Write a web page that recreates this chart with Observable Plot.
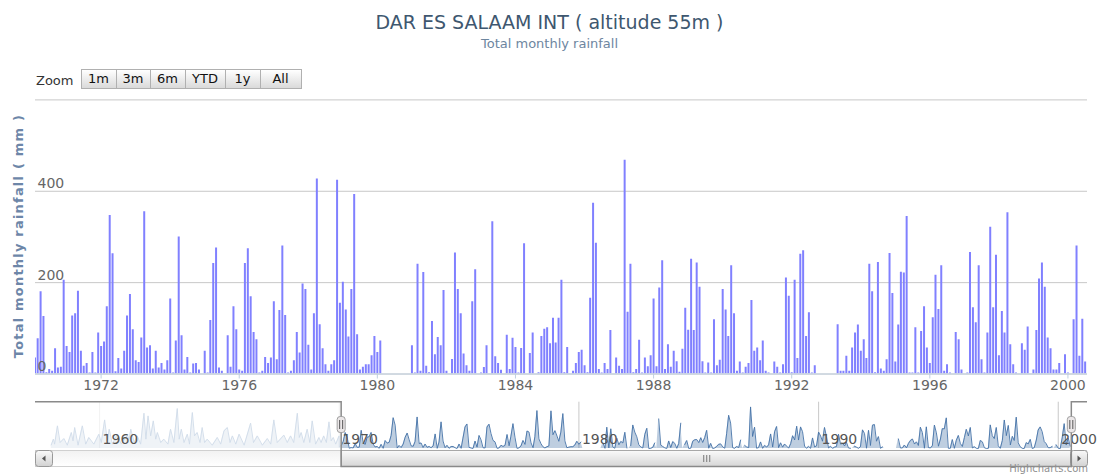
<!DOCTYPE html>
<html>
<head>
<meta charset="utf-8">
<script src="https://cdn.jsdelivr.net/npm/d3@7"></script>
<script src="https://cdn.jsdelivr.net/npm/@observablehq/plot@0.6"></script>
<style>
html, body { margin: 0; padding: 0; background: #fff; }
#wrap { position: relative; width: 1099px; height: 475px; overflow: hidden; font-family: "DejaVu Sans", Verdana, sans-serif; background: #fff; }
#wrap svg { position: absolute; left: 0; }
.title { position: absolute; left: 0; width: 1099px; text-align: center; top: 13px; font-size: 19px; line-height: 19px; color: #3E576F; white-space: nowrap; }
.subtitle { position: absolute; left: 0; width: 1099px; text-align: center; top: 37px; font-size: 13px; line-height: 13px; color: #6D869F; white-space: nowrap; }
.zoomlbl { position: absolute; left: 36px; top: 74px; font-size: 13px; line-height: 13px; color: #333; }
.btn { position: absolute; top: 69px; height: 20px; box-sizing: border-box; border: 1px solid #b0b0b0; background: linear-gradient(#ffffff, #dadada); font-size: 13px; line-height: 18px; text-align: center; color: #111; }
.ytitle { position: absolute; left: -111px; top: 228px; width: 260px; text-align: center; font-size: 13px; line-height: 16px; font-weight: bold; letter-spacing: 1.2px; color: #6D86A8; transform: rotate(-90deg); white-space: nowrap; }
</style>
</head>
<body>
<div id="wrap"></div>
<script>
// ---------------- data (monthly total rainfall, mm) ----------------
const startYear = 1970;
const r1970 = [20, 35, 77, 180, 126, 3, 10, 6, 55, 13, 15, 205];
const r1971 = [60, 47, 127, 132, 181, 50, 17, 23, 2, 47, 2, 90];
const r1972 = [60, 70, 147, 347, 263, 5, 34, 11, 50, 127, 174, 97];
const r1973 = [29, 25, 79, 355, 57, 62, 11, 50, 13, 23, 9, 29];
const r1974 = [164, 2, 72, 300, 84, 9, 36, 2, 22, 23, 9, 0];
const r1975 = [50, 2, 117, 242, 276, 13, 6, 0, 84, 15, 147, 97];
const r1976 = [9, 6, 242, 274, 169, 91, 75, 2, 6, 36, 23, 35];
const r1977 = [158, 31, 139, 280, 128, 2, 6, 29, 91, 46, 197, 185];
const r1978 = [63, 9, 132, 427, 108, 55, 20, 6, 20, 29, 424, 155];
const r1979 = [201, 140, 81, 185, 393, 86, 9, 15, 20, 20, 40, 82];
const r1980 = [47, 72, null, null, null, null, null, null, null, null, null, null];
const r1981 = [62, 2, 240, 6, 222, 17, 3, 115, 42, 80, 62, 183];
const r1982 = [6, null, 32, 265, 185, 132, 44, 18, 6, 158, 228, 0];
const r1983 = [2, 14, 62, null, 333, 38, 23, 8, 0, 85, 10, 78];
const r1984 = [58, 2, 56, 285, null, 45, 90, 0, 3, 82, 98, 101];
const r1985 = [66, 122, 68, 122, 205, 3, 58, 0, 6, 23, 47, 52];
const r1986 = [18, 3, 166, 374, 286, 10, 2, 23, 10, 95, null, 35];
const r1987 = [17, 10, 468, 135, 240, 3, 10, 74, 2, 35, 16, 40];
const r1988 = [164, 16, 188, 248, 10, 64, 15, 50, 27, 4, 54, 144];
const r1989 = [96, 251, 95, 243, 190, 27, 2, 24, 2, 119, 18, 30];
const r1990 = [185, 140, 82, 237, 132, 6, 26, 2, 15, 23, 161, 50];
const r1991 = [57, 29, 72, 6, 2, null, 26, 15, 2, 20, 210, 170];
const r1992 = [3, 205, 34, 262, 270, 82, 134, 2, 18, null, null, null];
const r1993 = [null, null, null, null, 108, 6, 6, 39, 6, 57, 90, 107];
const r1994 = [50, 75, 34, 240, 180, 3, 244, 11, 6, 31, 264, 176];
const r1995 = [26, 107, 223, 221, 345, 2, 2, 101, 2, 93, 147, 57];
const r1996 = [23, 123, 216, 141, 237, 6, 20, 2, 0, 91, 75, 9];
const r1997 = [0, 2, 266, 145, 112, 237, 31, 2, 90, 321, 145, 260];
const r1998 = [40, 137, 90, 353, 64, 20, 2, 0, 66, 52, 103, 0];
const r1999 = [9, 95, 208, 243, 190, 79, 55, 9, 9, 23, null, 42];
const r2000 = [2, 0, 119, 280, 39, 120, 26];

// earlier record, only seen in the navigator (decimal year, mm)
const preYear = [1957.98,1958.07,1958.12,1958.24,1958.35,1958.51,1958.65,1958.82,1958.89,1958.96,1959.1,1959.28,1959.42,1959.55,1959.76,1959.97,1960.07,1960.21,1960.32,1960.4,1960.53,1960.74,1960.9,1961.16,1961.23,1961.3,1961.44,1961.57,1961.71,1961.85,1961.93,1962.02,1962.13,1962.24,1962.34,1962.41,1962.55,1962.68,1962.85,1962.96,1963.1,1963.24,1963.32,1963.41,1963.52,1963.66,1963.75,1963.87,1963.96,1964.07,1964.19,1964.28,1964.38,1964.49,1964.7,1964.91,1965.05,1965.19,1965.33,1965.44,1965.54,1965.68,1965.82,1966.03,1966.3,1966.42,1966.58,1966.79,1967.0,1967.14,1967.27,1967.41,1967.69,1967.83,1967.97,1968.1,1968.25,1968.33,1968.41,1968.52,1968.66,1968.77,1968.87,1969.01,1969.15,1969.24,1969.35,1969.46,1969.57,1969.66,1969.75,1969.85,1969.99];
const preRain = [40,105,49,255,67,112,37,180,86,236,37,255,49,124,49,161,67,322,86,217,49,161,49,150,105,217,67,142,49,397,105,367,142,311,105,180,67,105,49,217,67,450,105,217,67,161,49,405,142,180,67,236,67,105,37,124,49,199,236,67,142,49,161,37,285,67,142,37,112,49,322,67,150,67,142,67,397,124,180,67,217,67,311,49,124,67,142,67,300,86,124,49,142];

// axis / range settings
const yGrid = [0, 200, 400, 600];
const yLabels = [0, 200, 400];
const xTickYears = [1972, 1976, 1980, 1984, 1988, 1992, 1996, 2000];
const navTickYears = [1960, 1970, 1980, 1990, 2000];
const viewRange = ["1970-02-06", "2000-07-26"];
const navRange = ["1957-04-29", "2001-03-22"];
const rangeButtons = ["1m", "3m", "6m", "YTD", "1y", "All"];
const buttonWidths = [35, 34, 35, 40, 35, 41];

(function () {
  const yearArrays = [r1970,r1971,r1972,r1973,r1974,r1975,r1976,r1977,r1978,r1979,r1980,r1981,r1982,r1983,r1984,r1985,r1986,r1987,r1988,r1989,r1990,r1991,r1992,r1993,r1994,r1995,r1996,r1997,r1998,r1999,r2000];
  const rainfall = yearArrays.flatMap((vals, i) => vals.map((v, m) => ({date: new Date(Date.UTC(startYear + i, m, 1)), value: v})));
  function yearToDate(y) {
    const yr = Math.floor(y), s = Date.UTC(yr, 0, 1), e = Date.UTC(yr + 1, 0, 1);
    return new Date(s + (y - yr) * (e - s));
  }
  const preData = preYear.map((y, i) => ({date: yearToDate(y), value: preRain[i]}));
  const navData = preData.concat(rainfall);
  const viewStart = new Date(viewRange[0]), viewEnd = new Date(viewRange[1]);
  const navStart = new Date(navRange[0]), navEnd = new Date(navRange[1]);
  const xTicks = xTickYears.map(y => new Date(Date.UTC(y, 0, 1)));
  const navTicks = navTickYears.map(y => new Date(Date.UTC(y, 0, 1)));

  const wrap = document.getElementById("wrap");
  const font = "'DejaVu Sans', Verdana, sans-serif";

  const main = Plot.plot({
    width: 1099, height: 395,
    marginLeft: 35, marginRight: 12, marginTop: 99.4, marginBottom: 21.5,
    style: {fontFamily: font, fontSize: "14px", background: "transparent", overflow: "visible"},
    x: {type: "utc", domain: [viewStart, viewEnd]},
    y: {domain: [0, 600], axis: null},
    marks: [
      Plot.ruleY(yGrid, {stroke: "#c8c8c8", strokeWidth: 1}),
      Plot.ruleX(rainfall.filter(d => d.value != null), {x: "date", y1: 0, y2: "value", stroke: "#8080ff", strokeWidth: 2, clip: true}),
      Plot.ruleY([0], {stroke: "#C0D0E0", strokeWidth: 1}),
      Plot.axisX({ticks: xTicks, tickFormat: d3.utcFormat("%Y"), tickSize: 5, tickPadding: 1, stroke: "#C0D0E0", fill: "#666", label: null}),
      Plot.text(yLabels, {y: d => d, text: d => String(d), frameAnchor: "left", textAnchor: "start", lineAnchor: "bottom", dx: 2, dy: -3, fill: "#666"})
    ]
  });
  main.style.top = "0px";
  wrap.appendChild(main);

  const nav = Plot.plot({
    width: 1099, height: 80,
    marginLeft: 35, marginRight: 12, marginTop: 6.7, marginBottom: 27,
    style: {fontFamily: font, fontSize: "14px", background: "transparent", overflow: "visible"},
    x: {type: "utc", domain: [navStart, navEnd], axis: null},
    y: {domain: [0, 521], axis: null},
    marks: [
      Plot.ruleX(navTicks, {stroke: "#c8c8c8"}),
      Plot.areaY(navData, {x: "date", y: "value", fill: "#4572A7", fillOpacity: 0.35}),
      Plot.lineY(navData, {x: "date", y: "value", stroke: "#4572A7", strokeWidth: 1, strokeOpacity: 0.9}),
      Plot.rect([[navStart, viewStart], [viewEnd, navEnd]], {x1: d => d[0], x2: d => d[1], fill: "white", fillOpacity: 0.75}),
      Plot.text(navTicks, {x: d => d, text: d => String(d.getUTCFullYear()), frameAnchor: "bottom", textAnchor: "start", lineAnchor: "bottom", dx: 3, dy: -5, fill: "#555"})
    ]
  });
  nav.style.top = "395px";
  wrap.appendChild(nav);

  // navigator decorations (scrollbar, outline, handles) positioned with the nav x scale
  const xs = nav.scale("x");
  const hx1 = xs.apply(viewStart), hx2 = xs.apply(viewEnd);
  const L = 35, R = 1087, navTop = 6.7, sb0 = 55, sb1 = 71;
  const svg = d3.select(nav);
  const defs = svg.append("defs");
  function grad(id, c0, c1) {
    const gr = defs.append("linearGradient").attr("id", id).attr("x1", 0).attr("y1", 0).attr("x2", 0).attr("y2", 1);
    gr.append("stop").attr("offset", 0).attr("stop-color", c0);
    gr.append("stop").attr("offset", 1).attr("stop-color", c1);
  }
  grad("trackG", "#f2f2f2", "#ffffff");
  grad("barG", "#fafafa", "#d6d6d6");
  grad("btnG", "#fafafa", "#d2d2d2");
  const g = svg.append("g");
  g.append("rect").attr("x", L + 0.5).attr("y", sb0 + 0.5).attr("width", R - L - 1).attr("height", sb1 - sb0).attr("fill", "url(#trackG)").attr("stroke", "#d0d0d0");
  g.append("rect").attr("x", hx1).attr("y", sb0 + 0.5).attr("width", hx2 - hx1).attr("height", sb1 - sb0).attr("fill", "url(#barG)").attr("stroke", "#a8a8a8");
  const cx = (hx1 + hx2) / 2;
  [-3, 0, 3].forEach(d => g.append("line").attr("x1", cx + d + 0.5).attr("x2", cx + d + 0.5).attr("y1", sb0 + 5).attr("y2", sb1 - 4).attr("stroke", "#777"));
  [[L, 1], [R - 17, -1]].forEach(([bx, dir]) => {
    g.append("rect").attr("x", bx + 0.5).attr("y", sb0 + 0.5).attr("width", 17).attr("height", sb1 - sb0).attr("rx", 3).attr("fill", "url(#btnG)").attr("stroke", "#999");
    const mx = bx + 9, my = (sb0 + sb1) / 2 + 0.5;
    const p = dir > 0 ? `M${mx + 1.5},${my - 3}L${mx - 2},${my}L${mx + 1.5},${my + 3}Z` : `M${mx - 1.5},${my - 3}L${mx + 2},${my}L${mx - 1.5},${my + 3}Z`;
    g.append("path").attr("d", p).attr("fill", "#555");
  });
  g.append("path").attr("d", `M${L},${navTop}H${hx1}V${sb1 + 0.5}H${hx2}V${navTop}H${R}`).attr("fill", "none").attr("stroke", "#8a8a8a").attr("stroke-width", 1.5);
  [hx1, hx2].forEach(hx => {
    g.append("rect").attr("x", hx - 4).attr("y", 21.5).attr("width", 8).attr("height", 16).attr("rx", 3).attr("fill", "#ebe7e8").attr("stroke", "#a0a0a0");
    g.append("line").attr("x1", hx - 1.5).attr("x2", hx - 1.5).attr("y1", 25).attr("y2", 34).attr("stroke", "#555");
    g.append("line").attr("x1", hx + 1.5).attr("x2", hx + 1.5).attr("y1", 25).attr("y2", 34).attr("stroke", "#555");
  });
  g.append("text").attr("x", 1088).attr("y", 77.2).attr("text-anchor", "end").attr("fill", "#909090").attr("font-size", 10).text("Highcharts.com");

  // titles, range selector, axis title
  function addDiv(cls, text, css) {
    const d = document.createElement("div");
    d.className = cls; d.textContent = text;
    if (css) Object.assign(d.style, css);
    wrap.appendChild(d);
    return d;
  }
  addDiv("title", "DAR ES SALAAM INT ( altitude 55m )");
  addDiv("subtitle", "Total monthly rainfall");
  addDiv("zoomlbl", "Zoom");
  let bx = 80.5;
  rangeButtons.forEach((b, i) => {
    addDiv("btn", b, {left: bx + "px", width: (buttonWidths[i] + 1) + "px"});
    bx += buttonWidths[i];
  });
  addDiv("ytitle", "Total monthly rainfall ( mm )");
})();
</script>
</body>
</html>
